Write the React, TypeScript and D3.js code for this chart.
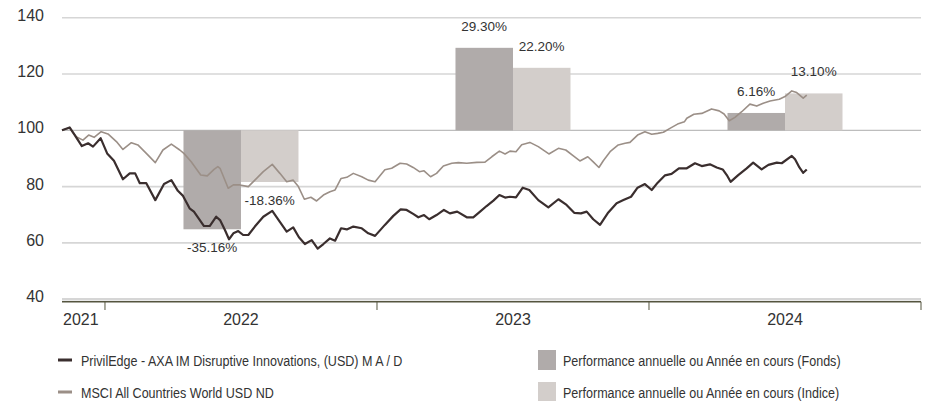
import { useEffect, useRef } from "react";
import * as d3 from "d3";

// time as decimal year, values rebased to 100
const fundPoints: [number, number][] = [
  [2021.842, 100], [2021.87, 101], [2021.889, 98.3], [2021.915, 94.4], [2021.938, 95.4],
  [2021.956, 94.2], [2021.984, 97.2], [2022.008, 91.8], [2022.033, 89.2], [2022.066, 82.6],
  [2022.091, 84.7], [2022.111, 84.7], [2022.128, 81.2], [2022.152, 81.2], [2022.185, 75.2],
  [2022.217, 80.9], [2022.244, 82.3], [2022.268, 78.5], [2022.287, 76.7], [2022.311, 72.3],
  [2022.327, 71.1], [2022.364, 66], [2022.385, 66], [2022.409, 69.3], [2022.423, 68.1],
  [2022.441, 64.6], [2022.456, 61.3], [2022.472, 63.4], [2022.49, 64.2], [2022.508, 62.8],
  [2022.527, 62.8], [2022.551, 65.8], [2022.582, 69.3], [2022.615, 71.4], [2022.643, 67.5],
  [2022.668, 64], [2022.692, 65.5], [2022.713, 62], [2022.735, 59.6], [2022.76, 61],
  [2022.782, 58], [2022.803, 59.6], [2022.827, 61.6], [2022.846, 60.8], [2022.868, 65.2],
  [2022.889, 64.8], [2022.913, 65.8], [2022.944, 65.2], [2022.968, 63.4], [2022.993, 62.5],
  [2023.029, 66.4], [2023.06, 69.6], [2023.087, 71.9], [2023.109, 71.7], [2023.133, 70.3],
  [2023.152, 69.1], [2023.173, 69.9], [2023.192, 68.4], [2023.219, 69.9], [2023.246, 71.7],
  [2023.268, 70.5], [2023.295, 71.1], [2023.33, 69.1], [2023.354, 69.1], [2023.379, 71.1],
  [2023.403, 73.1], [2023.428, 75], [2023.45, 77], [2023.471, 76.1], [2023.489, 76.4],
  [2023.511, 76.2], [2023.536, 79.6], [2023.56, 78.8], [2023.593, 75.2], [2023.63, 72.6],
  [2023.667, 75.5], [2023.697, 73.5], [2023.725, 70.7], [2023.75, 70.5], [2023.771, 71.1],
  [2023.795, 68.4], [2023.82, 66.4], [2023.848, 70.5], [2023.881, 74.1], [2023.906, 75.2],
  [2023.934, 76.4], [2023.958, 79.6], [2023.985, 80.9], [2024.01, 78.8], [2024.032, 81.4],
  [2024.059, 84], [2024.083, 84.5], [2024.11, 86.5], [2024.139, 86.5], [2024.169, 88.3],
  [2024.194, 87.3], [2024.224, 87.9], [2024.249, 86.8], [2024.271, 86.1], [2024.286, 84.1],
  [2024.3, 81.7], [2024.328, 84.1], [2024.359, 86.5], [2024.383, 88.5], [2024.414, 86.1],
  [2024.439, 87.7], [2024.47, 88.5], [2024.488, 88.3], [2024.525, 90.9], [2024.537, 89.7],
  [2024.553, 86.8], [2024.567, 84.9], [2024.58, 86.1],
];

const indexPoints: [number, number][] = [
  [2021.842, 100], [2021.87, 100.8], [2021.894, 97.7], [2021.919, 96.5], [2021.94, 98.3],
  [2021.96, 97.5], [2021.986, 99.5], [2022.011, 98.7], [2022.042, 96], [2022.066, 93.2],
  [2022.097, 95.6], [2022.121, 94.8], [2022.152, 91.8], [2022.185, 88.5], [2022.213, 93],
  [2022.244, 95.1], [2022.275, 93], [2022.29, 91.8], [2022.317, 88.8], [2022.352, 84.1],
  [2022.376, 83.8], [2022.401, 86.1], [2022.415, 87.1], [2022.423, 86.5], [2022.453, 79.4],
  [2022.472, 80.6], [2022.496, 80.6], [2022.527, 80], [2022.551, 82.3], [2022.582, 85.3],
  [2022.615, 87.9], [2022.643, 84.7], [2022.668, 81.7], [2022.692, 82.3], [2022.711, 80],
  [2022.733, 75.5], [2022.757, 76.2], [2022.778, 74.9], [2022.803, 77], [2022.827, 78.2],
  [2022.846, 78.8], [2022.868, 82.9], [2022.889, 83.3], [2022.913, 84.7], [2022.944, 83.5],
  [2022.968, 82.3], [2022.993, 81.7], [2023.029, 86], [2023.054, 86.5], [2023.085, 88.3],
  [2023.109, 88], [2023.133, 86.8], [2023.156, 85.3], [2023.173, 85.6], [2023.197, 83.5],
  [2023.219, 84.7], [2023.244, 87.3], [2023.275, 88.3], [2023.299, 88.5], [2023.33, 88.3],
  [2023.367, 88.6], [2023.397, 88.7], [2023.422, 90.6], [2023.45, 92.6], [2023.471, 91.6],
  [2023.489, 92.6], [2023.511, 92.4], [2023.532, 94.9], [2023.562, 95.7], [2023.593, 94.2],
  [2023.632, 91.6], [2023.667, 93.6], [2023.694, 93], [2023.722, 90.9], [2023.746, 89.1],
  [2023.775, 90.6], [2023.795, 88.8], [2023.816, 86.8], [2023.832, 89.2], [2023.857, 92.4],
  [2023.887, 94.8], [2023.912, 95.4], [2023.93, 95.7], [2023.958, 98.3], [2023.985, 99.5],
  [2024.01, 98.6], [2024.032, 98.9], [2024.053, 99.3], [2024.077, 100.7], [2024.105, 102.2],
  [2024.13, 103], [2024.139, 104.3], [2024.165, 105.7], [2024.194, 106], [2024.23, 107.6],
  [2024.258, 106.9], [2024.276, 105.8], [2024.295, 103.4], [2024.316, 104.6], [2024.341, 106.6],
  [2024.371, 109.3], [2024.396, 108.6], [2024.42, 109.6], [2024.445, 110.4], [2024.479, 111],
  [2024.5, 112], [2024.525, 114], [2024.543, 113.4], [2024.567, 111.4], [2024.58, 112.5],
];

const barYears = [2022, 2023, 2024];
const fundPerf = [-35.16, 29.3, 6.16];
const indexPerf = [-18.36, 22.2, 13.1];

const yTicks = [40, 60, 80, 100, 120, 140];
const yearTicks = [2022, 2023, 2024, 2025];
const yearLabels = ["2021", "2022", "2023", "2024"];

const legendLines = [
  "PrivilEdge - AXA IM Disruptive Innovations, (USD) M A / D",
  "MSCI All Countries World USD ND",
];
const legendBars = [
  "Performance annuelle ou Année en cours (Fonds)",
  "Performance annuelle ou Année en cours (Indice)",
];

const FUND_LINE = "#3a2e2e";
const INDEX_LINE = "#9b8f87";
const FUND_BAR = "#b0abaa";
const INDEX_BAR = "#d3cecb";
const FONT = "'Liberation Sans', Arial, sans-serif";

const App = () => {
  const ref = useRef<SVGSVGElement | null>(null);

  useEffect(() => {
    const width = 928;
    const height = 401;
    const svg = d3.select(ref.current).attr("width", width).attr("height", height);
    svg.selectAll("*").remove();

    const x = d3.scaleLinear().domain([2021.842, 2025]).range([62, 921]);
    const y = d3.scaleLinear().domain([40, 140]).range([299.2, 17.7]);

    // gridlines
    svg
      .append("g")
      .selectAll("line")
      .data(yTicks)
      .join("line")
      .attr("x1", 62)
      .attr("x2", 921)
      .attr("y1", (d) => y(d))
      .attr("y2", (d) => y(d))
      .attr("stroke", (d) => (d === 100 ? "#bdbdbd" : "#d6d6d6"))
      .attr("stroke-width", (d) => (d === 40 ? 2.5 : d === 100 ? 1.3 : 1.6));

    svg
      .append("g")
      .selectAll("text")
      .data(yTicks)
      .join("text")
      .attr("x", 44)
      .attr("y", (d) => y(d) + 3)
      .attr("text-anchor", "end")
      .attr("font-family", FONT)
      .attr("font-size", 16)
      .attr("fill", "#333")
      .text((d) => d);

    // annual bars
    const bw = (x(2023) - x(2022)) * 0.2114;
    const bars = svg.append("g");
    barYears.forEach((yr, i) => {
      const mid = x(yr + 0.5);
      [
        { v: fundPerf[i], x0: mid - bw, c: FUND_BAR },
        { v: indexPerf[i], x0: mid, c: INDEX_BAR },
      ].forEach((b) => {
        const top = y(Math.max(100, 100 + b.v));
        const bot = y(Math.min(100, 100 + b.v));
        bars
          .append("rect")
          .attr("x", b.x0)
          .attr("width", bw)
          .attr("y", top)
          .attr("height", bot - top)
          .attr("fill", b.c);
        bars
          .append("text")
          .attr("x", b.x0 + bw / 2)
          .attr("y", b.v >= 0 ? top - 17 : bot + 23)
          .attr("text-anchor", "middle")
          .attr("font-family", FONT)
          .attr("font-size", 13.5)
          .attr("fill", "#333")
          .text(b.v.toFixed(2) + "%");
      });
    });

    // x axis
    svg
      .append("line")
      .attr("x1", 62)
      .attr("x2", 921)
      .attr("y1", 301.8)
      .attr("y2", 301.8)
      .attr("stroke", "#55553f")
      .attr("stroke-width", 1.4);
    svg
      .append("g")
      .selectAll("line")
      .data(yearTicks)
      .join("line")
      .attr("x1", (d) => x(d))
      .attr("x2", (d) => x(d))
      .attr("y1", 301.8)
      .attr("y2", 310)
      .attr("stroke", "#55553f")
      .attr("stroke-width", 1);
    svg
      .append("g")
      .selectAll("text")
      .data(yearLabels)
      .join("text")
      .attr("x", (d, i) => (i === 0 ? x(2021.842) + 1 : x(+d + 0.5)))
      .attr("y", 325)
      .attr("text-anchor", (d, i) => (i === 0 ? "start" : "middle"))
      .attr("font-family", FONT)
      .attr("font-size", 16)
      .attr("fill", "#333")
      .text((d) => d);

    // lines
    const line = d3
      .line<[number, number]>()
      .x((d) => x(d[0]))
      .y((d) => y(d[1]));
    svg
      .append("path")
      .attr("d", line(indexPoints))
      .attr("fill", "none")
      .attr("stroke", INDEX_LINE)
      .attr("stroke-width", 1.6)
      .attr("stroke-linejoin", "round");
    svg
      .append("path")
      .attr("d", line(fundPoints))
      .attr("fill", "none")
      .attr("stroke", FUND_LINE)
      .attr("stroke-width", 2.2)
      .attr("stroke-linejoin", "round");

    // legend
    const lg = svg.append("g");
    const addText = (tx: number, ty: number, s: string) =>
      lg
        .append("text")
        .attr("transform", `translate(${tx},${ty}) scale(0.81,1)`)
        .attr("font-family", FONT)
        .attr("font-size", 15.5)
        .attr("fill", "#333")
        .text(s);
    legendLines.forEach((s, i) => {
      const cy = 360 + i * 32;
      lg.append("line")
        .attr("x1", 58)
        .attr("x2", 72)
        .attr("y1", cy)
        .attr("y2", cy)
        .attr("stroke", i === 0 ? FUND_LINE : INDEX_LINE)
        .attr("stroke-width", 3);
      addText(81, cy + 5.7, s);
    });
    legendBars.forEach((s, i) => {
      const cy = 360 + i * 32;
      lg.append("rect")
        .attr("x", 538)
        .attr("y", cy - 10)
        .attr("width", 18)
        .attr("height", 20)
        .attr("fill", i === 0 ? FUND_BAR : INDEX_BAR);
      addText(563, cy + 5.7, s);
    });
  }, []);

  return <svg ref={ref} style={{ position: "absolute", left: 0, top: 0, display: "block" }} />;
};

export default App;
